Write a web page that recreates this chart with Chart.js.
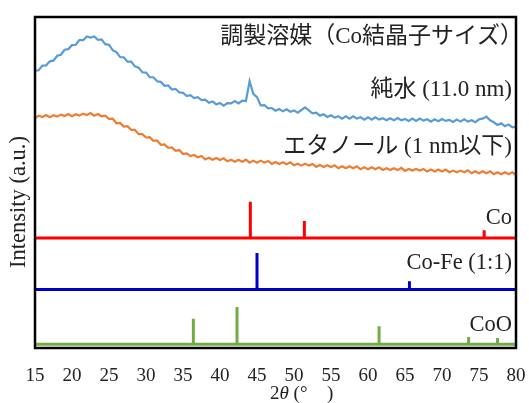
<!DOCTYPE html>
<html>
<head>
<meta charset="utf-8">
<script src="https://cdn.jsdelivr.net/npm/chart.js@4.4.1/dist/chart.umd.min.js"></script>
<style>
  body { margin: 0; background: #fff; }
  #wrap { width: 529px; height: 403px; }
</style>
</head>
<body>
<div id="wrap"><canvas id="xrd" width="529" height="403"></canvas></div>
<script>
// 2θ range and ticks
const angleMin = 15;
const angleMax = 80;
const angleStep = 0.5;
const tickStep = 5;

// measured patterns (arbitrary intensity, offset for display)
const pureWater = [
  83.8, 83.9, 85.3, 85.4, 86.6, 86.8, 88.3, 88.6, 90.1, 90.3, 91.5, 91.6,
  93.0, 93.0, 94.1, 93.8, 94.1, 93.1, 93.2, 91.8, 91.6, 90.0, 89.4, 87.9,
  87.8, 86.5, 86.5, 85.1, 84.7, 83.3, 83.2, 81.8, 81.8, 80.6, 80.4, 79.2,
  79.3, 78.1, 78.3, 77.2, 77.1, 76.1, 76.4, 75.5, 75.8, 74.9, 75.0, 74.1,
  74.5, 73.6, 74.0, 73.2, 74.0, 73.9, 74.6, 73.9, 74.7, 74.6, 80.6, 76.8,
  75.8, 73.3, 73.4, 72.4, 72.5, 71.7, 72.2, 71.5, 72.1, 71.4, 71.8, 71.1,
  71.9, 72.7, 71.8, 70.9, 71.1, 70.2, 70.6, 69.8, 70.3, 69.6, 70.0, 69.3,
  70.0, 69.3, 70.0, 69.3, 69.7, 69.0, 69.7, 69.0, 69.7, 69.0, 69.4, 68.8,
  69.4, 68.8, 69.5, 68.8, 69.2, 68.6, 69.3, 68.6, 69.3, 68.7, 69.1, 68.4,
  69.1, 68.5, 69.2, 68.6, 68.9, 68.3, 69.0, 68.4, 69.1, 68.4, 68.8, 68.2,
  69.1, 69.3, 69.9, 68.8, 68.2, 67.4, 67.9, 67.0, 67.5, 66.7, 66.9
];
const ethanol = [
  69.5, 70.2, 69.8, 70.4, 69.7, 70.3, 69.9, 70.5, 70.1, 70.7, 70.0, 70.6,
  70.2, 70.8, 70.4, 71.0, 70.2, 70.7, 70.0, 70.2, 69.2, 69.3, 67.9, 68.0,
  66.9, 67.0, 65.9, 65.9, 64.6, 64.6, 63.6, 63.7, 62.6, 62.7, 61.4, 61.5,
  60.5, 60.6, 59.6, 59.8, 58.6, 58.8, 58.0, 58.3, 57.6, 58.0, 57.0, 57.5,
  56.9, 57.4, 56.8, 57.3, 56.4, 56.9, 56.3, 56.9, 56.3, 56.9, 56.0, 56.6,
  56.0, 56.6, 56.0, 56.5, 55.6, 56.2, 55.6, 56.1, 55.5, 56.1, 55.2, 55.7,
  55.1, 55.7, 55.1, 55.6, 54.7, 55.3, 54.7, 55.2, 54.7, 55.2, 54.3, 54.9,
  54.3, 54.9, 54.3, 54.9, 54.0, 54.6, 54.0, 54.6, 54.0, 54.6, 53.8, 54.3,
  53.8, 54.3, 53.8, 54.4, 53.5, 54.1, 53.6, 54.1, 53.6, 54.1, 53.3, 53.9,
  53.3, 53.9, 53.3, 53.9, 53.1, 53.6, 53.1, 53.6, 53.1, 53.7, 52.8, 53.4,
  52.8, 53.4, 52.8, 53.4, 52.5, 53.1, 52.5, 53.1, 52.5, 53.1, 52.2
];

// reference sticks
const coBase = 33.2;
const coAngles = [44.1, 51.4, 75.7];
const coTops = [44.2, 38.4, 35.6];

const coFeBase = 17.7;
const coFeAngles = [45.0, 65.6];
const coFeTops = [28.7, 20.2];

const cooBase = 1.1;
const cooAngles = [36.4, 42.3, 61.5, 73.6, 77.5];
const cooTops = [8.8, 12.4, 6.6, 3.3, 3.0];

const serif = "'Liberation Serif', 'Noto Sans CJK JP', serif";

function toPoints(values) {
  return values.map((v, i) => ({ x: angleMin + i * angleStep, y: v }));
}

function stickPoints(base, angles, tops) {
  const pts = [{ x: angleMin, y: base }];
  angles.forEach((a, i) => {
    pts.push({ x: a, y: base }, { x: a, y: tops[i] }, { x: a, y: base });
  });
  pts.push({ x: angleMax, y: base });
  return pts;
}

// frame + labels drawn on top
const decor = {
  id: 'decor',
  afterDraw(chart) {
    const c = chart.ctx;
    const a = chart.chartArea;
    c.save();
    c.strokeStyle = '#000';
    c.lineWidth = 2.5;
    c.strokeRect(a.left, a.top, a.right - a.left, a.bottom - a.top);

    c.fillStyle = '#222';
    c.textAlign = 'right';
    c.textBaseline = 'middle';
    c.font = '23px ' + serif;
    c.fillText('調製溶媒（Co結晶子サイズ）', 523, 37);
    c.fillText('純水 (11.0 nm)', 512, 90);
    c.fillText('エタノール (1 nm以下)', 512, 147);
    c.font = '22.5px ' + serif;
    c.fillText('Co', 512, 218);
    c.fillText('Co-Fe (1:1)', 512, 263);
    c.fillText('CoO', 512, 325);

    // y title
    c.save();
    c.translate(19, 202);
    c.rotate(-Math.PI / 2);
    c.textAlign = 'center';
    c.font = '22.5px ' + serif;
    c.fillText('Intensity (a.u.)', 0, 0);
    c.restore();

    // x title: 2θ (°  )
    c.textAlign = 'left';
    let x = 270;
    const y = 394;
    c.font = '19px ' + serif;
    c.fillText('2', x, y);
    x += c.measureText('2').width;
    c.font = 'italic 19px ' + serif;
    c.fillText('θ', x, y);
    x += c.measureText('θ').width;
    c.font = '19px ' + serif;
    c.fillText(' (°', x, y);
    c.fillText(')', 327, y);
    c.restore();
  }
};

new Chart(document.getElementById('xrd'), {
  type: 'line',
  data: {
    datasets: [
      { label: '純水', data: toPoints(pureWater), borderColor: '#5B9BD5', borderWidth: 2.2, pointRadius: 0 },
      { label: 'エタノール', data: toPoints(ethanol), borderColor: '#ED7D31', borderWidth: 2.2, pointRadius: 0 },
      { label: 'Co', data: stickPoints(coBase, coAngles, coTops), borderColor: '#FF0000', borderWidth: 3, pointRadius: 0, borderJoinStyle: 'bevel' },
      { label: 'Co-Fe', data: stickPoints(coFeBase, coFeAngles, coFeTops), borderColor: '#0000CC', borderWidth: 3, pointRadius: 0, borderJoinStyle: 'bevel' },
      { label: 'CoO', data: stickPoints(cooBase, cooAngles, cooTops), borderColor: '#70AD47', borderWidth: 3, pointRadius: 0, borderJoinStyle: 'bevel' }
    ]
  },
  options: {
    responsive: false,
    animation: false,
    layout: { padding: { top: 17, right: 13, left: 0, bottom: 0 } },
    plugins: { legend: { display: false }, tooltip: { enabled: false } },
    scales: {
      x: {
        type: 'linear',
        min: angleMin,
        max: angleMax,
        grid: { display: false, drawTicks: false },
        border: { display: false },
        ticks: {
          stepSize: tickStep,
          padding: 17,
          color: '#222',
          font: { family: serif, size: 19 }
        },
        afterFit(s) {
          s.height = 55;
          s.paddingLeft = 0;
          s.paddingRight = 0;
        }
      },
      y: {
        min: 0,
        max: 100,
        grid: { display: false, drawTicks: false },
        border: { display: false },
        ticks: { display: false },
        afterFit(s) { s.width = 35; }
      }
    }
  },
  plugins: [decor]
});
</script>
</body>
</html>
